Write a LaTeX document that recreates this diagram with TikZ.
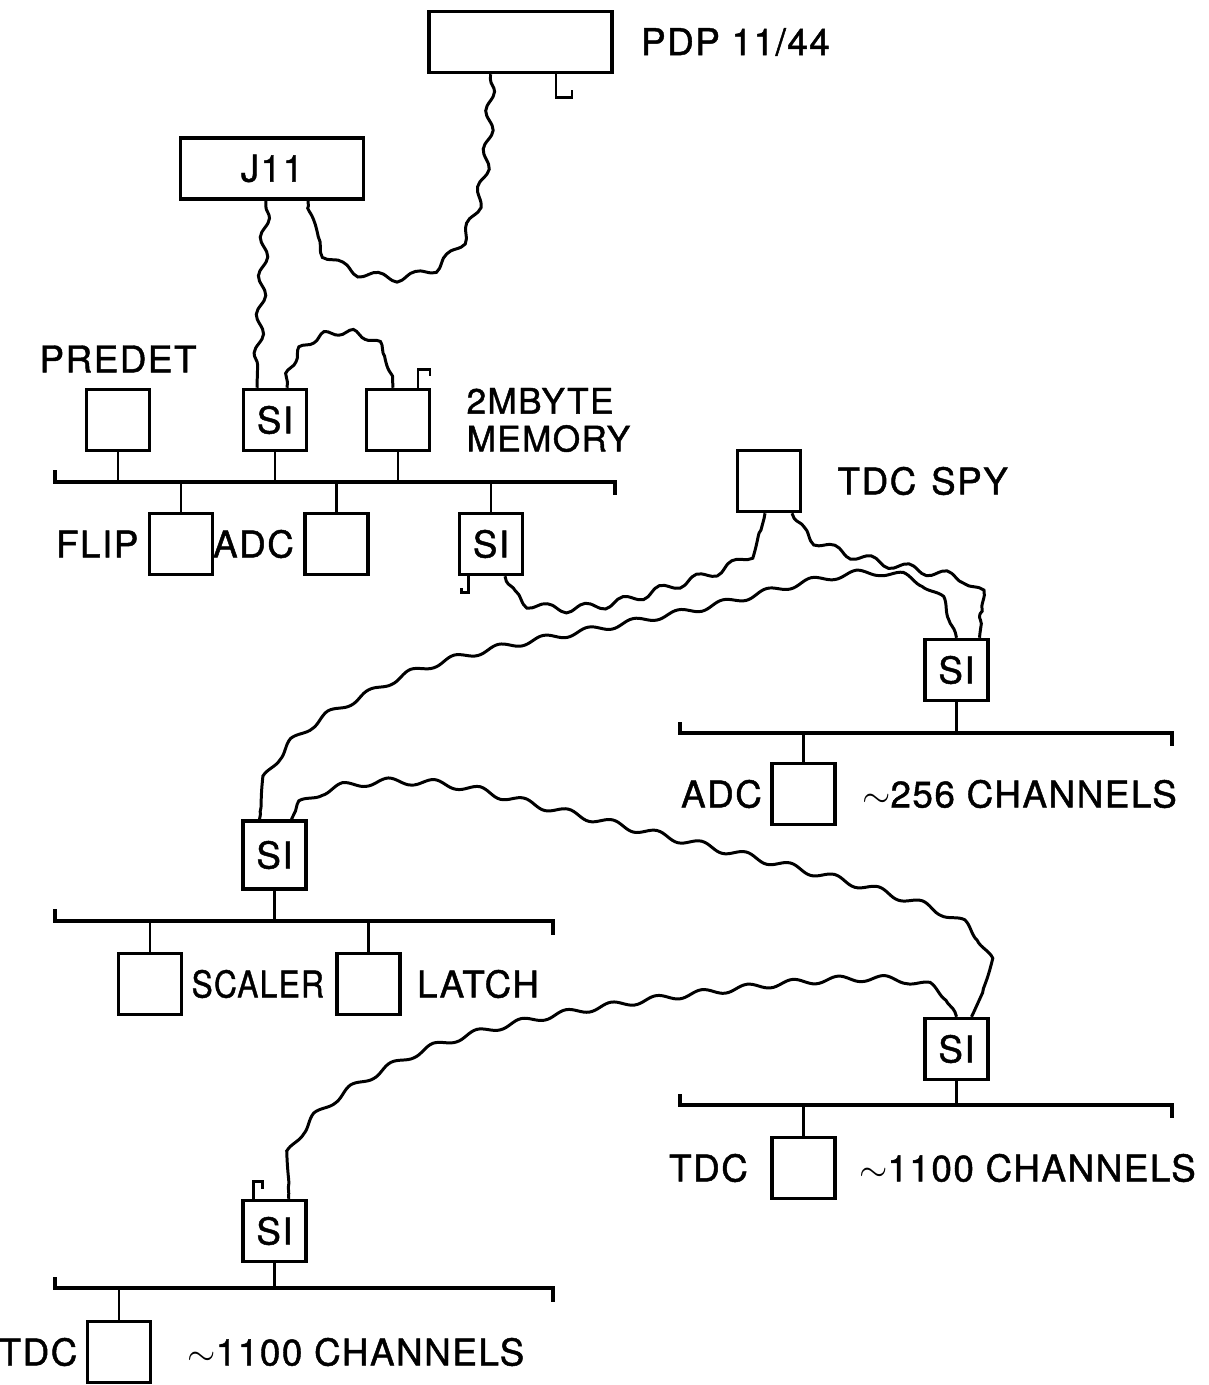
\documentclass[tikz,border=0pt]{standalone}
\usepackage{fontspec}
\setmainfont{TeX Gyre Heros}[LetterSpace=4, FakeBold=1.2]
\usetikzlibrary{positioning,decorations.pathmorphing}

\begin{document}
\begin{tikzpicture}[
    x=0.02cm, y=-0.02cm,
    every node/.style={font=\fontsize{21}{21.5}\selectfont},
    unit/.style={draw, line width=2pt, minimum width=1.26cm, minimum height=1.22cm, inner sep=0pt},
    cpu/.style={unit, minimum width=3.66cm, minimum height=1.22cm},
    lbl/.style={inner sep=0pt, align=left},
    bus/.style={line width=2pt},
    drop/.style={line width=1.6pt},
    stub/.style={line width=1.7pt},
    cable/.style={line width=1.7pt, decorate, decoration={snake, amplitude=2.4pt, segment length=22pt, pre length=3pt, post length=3pt}}
  ]
    \useasboundingbox (0,0) rectangle (1208,1385);

    \node[cpu] (pdp) at (520.5,42) {};
    \node[lbl, right=0.54cm of pdp] (pdplbl) {PDP 11/44};
    \node[cpu] (jeleven) at (272,168.5) {J11};

    \node[unit] (predet) at (118,420) {};
    \node[unit] (siA) at (275,420) {SI};
    \node[unit] (mem) at (398,420) {};
    \node[unit] (flip) at (181,544) {};
    \node[unit] (adcA) at (336.5,544) {};
    \node[unit] (siB) at (491,544) {SI};
    \node[lbl, above=0.3cm of predet] (predetlbl) {PREDET};
    \node[lbl, right=0.7cm of mem, font=\fontsize{20}{21.5}\selectfont] (memlbl) {2MBYTE\\MEMORY};
    \node[lbl, left=0.18cm of flip] (fliplbl) {FLIP};
    \node[lbl, left=0.18cm of adcA] (adcAlbl) {ADC};

    \node[unit] (spy) at (769,481) {};
    \node[lbl, right=0.7cm of spy] (spylbl) {TDC\hspace{0.4em}SPY};

    \node[unit] (siC) at (956.5,670) {SI};
    \node[unit] (adcC) at (803.5,794) {};
    \node[lbl, left=0.16cm of adcC] (adcClbl) {ADC};
    \node[lbl, right=0.5cm of adcC] (chanC) {$\sim$256 CHANNELS};

    \node[unit, minimum height=1.36cm] (siD) at (274.5,855) {SI};
    \node[unit] (scaler) at (150,984) {};
    \node[unit] (latch) at (368.5,984) {};
    \node[lbl, right=0.16cm of scaler] (scalerlbl) {\scalebox{0.86}[1]{SCALER}};
    \node[lbl, right=0.3cm of latch] (latchlbl) {LATCH};

    \node[unit] (siE) at (956.5,1049) {SI};
    \node[unit] (tdcE) at (803.5,1168) {};
    \node[lbl, left=0.44cm of tdcE] (tdcElbl) {TDC};
    \node[lbl, right=0.44cm of tdcE] (chanE) {$\sim$1100 CHANNELS};

    \node[unit] (siF) at (274.5,1231) {SI};
    \node[unit] (tdcF) at (119,1352) {};
    \node[lbl, left=0.16cm of tdcF] (tdcFlbl) {TDC};
    \node[lbl, right=0.7cm of tdcF] (chanF) {$\sim$1100 CHANNELS};

    \coordinate (b1) at (55,482);
    \coordinate (b3) at (680,733);
    \coordinate (b4) at (55,921);
    \coordinate (b5) at (680,1105);
    \coordinate (b6) at (55,1288);

    \draw[bus] (55,470) -- (b1) -- (615,482) -- (615,495);
    \draw[bus] (680,722) -- (b3) -- (1172,733) -- (1172,746);
    \draw[bus] (55,909) -- (b4) -- (553,921) -- (553,935);
    \draw[bus] (680,1094) -- (b5) -- (1172,1105) -- (1172,1118);
    \draw[bus] (55,1277) -- (b6) -- (553,1288) -- (553,1302);

    \foreach \up in {predet,siA,mem}
      \draw[drop] (\up.south) -- (\up.south |- b1);
    \foreach \dn in {flip,adcA,siB}
      \draw[drop] (\dn.north |- b1) -- (\dn.north);
    \draw[drop] (siC.south) -- (siC.south |- b3);
    \draw[drop] (adcC.north |- b3) -- (adcC.north);
    \draw[drop] (siD.south) -- (siD.south |- b4);
    \foreach \dn in {scaler,latch}
      \draw[drop] (\dn.north |- b4) -- (\dn.north);
    \draw[drop] (siE.south) -- (siE.south |- b5);
    \draw[drop] (tdcE.north |- b5) -- (tdcE.north);
    \draw[drop] (siF.south) -- (siF.south |- b6);
    \draw[drop] (tdcF.north |- b6) -- (tdcF.north);

    \draw[stub] ([xshift=0.71cm]pdp.south) -- ++(0,23) -- ++(16,0) -- ++(0,-7);
    \draw[stub] ([xshift=0.4cm]mem.north) -- ++(0,-18) -- ++(12,0) -- ++(0,6);
    \draw[stub] ([xshift=-0.46cm]siB.south) -- ++(0,16) -- ++(-7,0) -- ++(0,-4);
    \draw[stub] ([xshift=-0.42cm]siF.north) -- ++(0,-17) -- ++(9,0) -- ++(0,7);

    \draw[cable] ([xshift=-0.6cm]pdp.south) .. controls (490,190) and (470,272) .. (390,268) .. controls (335,265) and (310,240) .. ([xshift=0.72cm]jeleven.south);
    \draw[cable] ([xshift=-0.12cm]jeleven.south) .. controls (262,300) and (258,340) .. ([xshift=-0.36cm]siA.north);
    \draw[cable, decoration={amplitude=1.8pt, segment length=16pt}] ([xshift=0.24cm]siA.north) .. controls (290,325) and (392,320) .. ([xshift=-0.1cm]mem.north);
    \draw[cable] ([xshift=0.28cm]siB.south) .. controls (508,605) and (580,605) .. (640,585) .. controls (700,565) and (760,555) .. ([xshift=-0.08cm]spy.south);
    \draw[cable] ([xshift=0.46cm]spy.south) .. controls (800,545) and (900,558) .. (950,568) .. controls (985,576) and (982,615) .. ([xshift=0.46cm]siC.north);
    \draw[cable, decoration={amplitude=1.8pt, segment length=26pt}] (siC.north) .. controls (950,602) and (918,580) .. (865,584) .. controls (800,590) and (740,615) .. (660,628) .. controls (560,650) and (450,660) .. (380,700) .. controls (300,735) and (268,770) .. ([xshift=-0.3cm]siD.north);
    \draw[cable, decoration={amplitude=2pt, segment length=26pt}] ([xshift=0.34cm]siD.north) .. controls (300,790) and (400,780) .. (480,800) .. controls (650,845) and (900,895) .. (955,930) .. controls (995,955) and (985,990) .. ([xshift=0.3cm]siE.north);
    \draw[cable, decoration={amplitude=1.8pt, segment length=26pt}] (siE.north) .. controls (950,985) and (880,985) .. (780,995) .. controls (650,1010) and (480,1030) .. (400,1075) .. controls (320,1115) and (290,1150) .. ([xshift=0.28cm]siF.north);
  \end{tikzpicture}
\end{document}
